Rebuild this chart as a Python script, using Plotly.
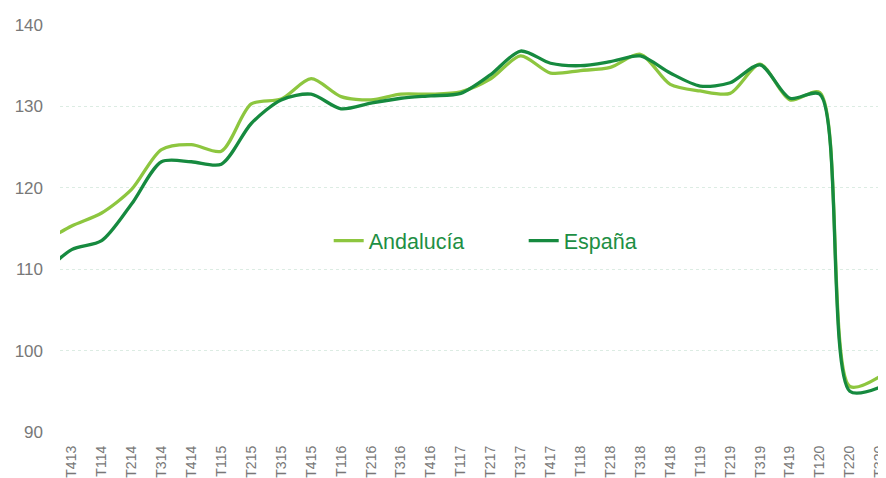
import plotly.graph_objects as go

# T313 lies just left of the visible plot area (its line segment enters from the left edge)
quarters = ["T313", "T413",
            "T114", "T214", "T314", "T414",
            "T115", "T215", "T315", "T415",
            "T116", "T216", "T316", "T416",
            "T117", "T217", "T317", "T417",
            "T118", "T218", "T318", "T418",
            "T119", "T219", "T319", "T419",
            "T120", "T220", "T320"]

andalucia = [113.2, 115.3, 116.9, 119.8, 124.7, 125.3, 124.5, 130.3, 130.9, 133.4,
             131.2, 130.8, 131.5, 131.5, 131.8, 133.4, 136.2, 134.1, 134.4,
             134.8, 136.4, 132.7, 131.9, 131.6, 135.2, 130.8, 131.7, 95.6, 96.8]

espana = [109.3, 112.4, 113.5, 118.0, 123.2, 123.2, 122.9, 127.9, 130.8, 131.5,
          129.7, 130.4, 131.0, 131.3, 131.6, 133.9, 136.8, 135.3, 135.0,
          135.5, 136.2, 134.1, 132.5, 132.9, 135.1, 131.0, 131.5, 95.0, 95.5]

y_ticks = [90, 100, 110, 120, 130, 140]

LIGHT = "#8dc63f"
DARK = "#168a3f"
TXT = "#787878"
FONT = "Liberation Sans, Arial, sans-serif"

fig = go.Figure()
fig.add_trace(go.Scatter(x=quarters, y=andalucia, name="Andalucía", mode="lines",
                         line=dict(color=LIGHT, width=3.3, shape="spline", smoothing=0.8)))
fig.add_trace(go.Scatter(x=quarters, y=espana, name="España", mode="lines",
                         line=dict(color=DARK, width=3.3, shape="spline", smoothing=0.8)))

# page body has an 8px margin: figure sized to the remaining window area
fig.update_layout(
    width=878, height=470,
    margin=dict(l=52, r=0, t=17, b=45.5),
    paper_bgcolor="white", plot_bgcolor="white",
    font=dict(family=FONT, color=TXT),
    showlegend=True,
    legend=dict(orientation="h", x=0.3253, y=0.470, xanchor="left", yanchor="middle",
                font=dict(size=21.5, color="#1e8f44", family=FONT),
                bgcolor="rgba(0,0,0,0)", entrywidth=150, itemwidth=30),
    xaxis=dict(type="category", range=[0.609, 28.21], showgrid=False, showline=False,
               zeroline=False, ticks="", tickangle=-90,
               tickfont=dict(size=14, color=TXT, family=FONT), ticklabelstandoff=10),
    yaxis=dict(range=[90, 140], tickvals=y_ticks, showgrid=True, gridcolor="#dcece3",
               gridwidth=1, griddash="dot", zeroline=False, showline=False, ticks="",
               tickfont=dict(size=17, color=TXT, family=FONT), ticklabelstandoff=16),
)

fig.write_html("out.html")
